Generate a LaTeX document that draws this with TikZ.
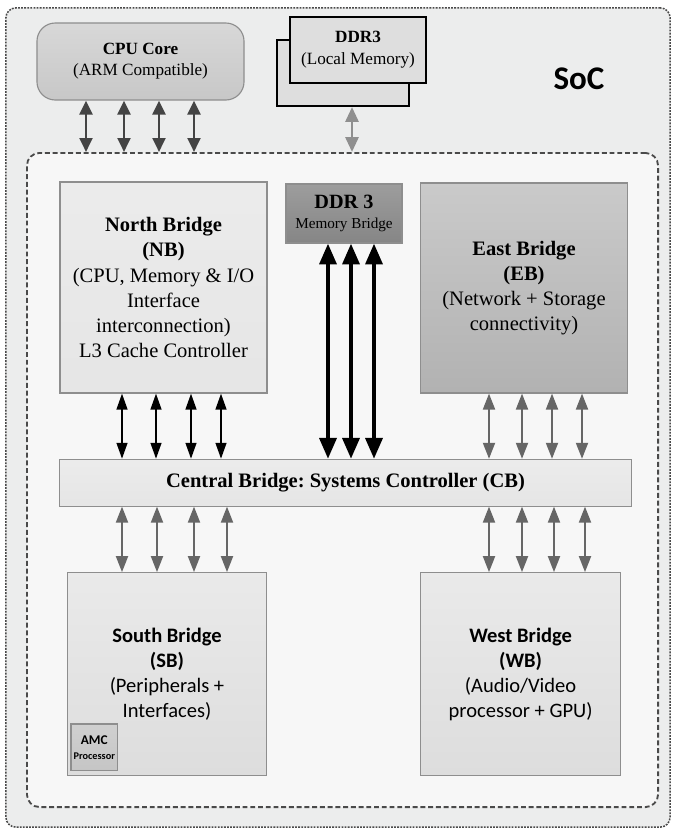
\documentclass[tikz,border=0pt]{standalone}
\usepackage{xcolor}
\usepackage{fontspec}
\setmainfont{Liberation Serif}
\newfontfamily\calibri{Carlito}
\usepackage{tikz}
\usetikzlibrary{arrows.meta,positioning}
\frenchspacing
\definecolor{socbg}{HTML}{ECEDED}
\definecolor{chipbg}{HTML}{F7F7F7}
\definecolor{frameline}{HTML}{4A4A4A}
\definecolor{boxline}{HTML}{8E8E8E}
\definecolor{memfill}{HTML}{DEDEDE}
\definecolor{cpuarrow}{HTML}{444444}
\definecolor{memarrow}{HTML}{8F8F8F}
\definecolor{ioarrow}{HTML}{666666}

\begin{document}
\begin{tikzpicture}[ % 整个图的属性
    x=0.025cm, y=-0.025cm, % 一个单位 = 一个像素, y 轴向下
    every node/.style={inner sep=0pt, align=center}, % 文字居中
    font=\fontsize{14.6}{17.8}\selectfont % 默认字号
  ]
  \tikzstyle{block}=[draw=boxline, line width=0.8pt, rectangle] % 各个 bridge 方框
  \tikzstyle{membox}=[draw=black, line width=1.4pt, fill=memfill] % DDR3 叠放的方框
  \tikzstyle{cpulink}=[<->, >={Triangle[length=0.35cm,width=0.32cm]}, line width=2.1pt, cpuarrow]
  \tikzstyle{memlink}=[<->, >={Triangle[length=0.37cm,width=0.32cm]}, line width=2.1pt, memarrow]
  \tikzstyle{nblink}=[<->, >={Triangle[length=0.4cm,width=0.27cm]}, line width=1.4pt, black]
  \tikzstyle{ddrlink}=[<->, >={Triangle[length=0.52cm,width=0.42cm]}, line width=2.8pt, black]
  \tikzstyle{iolink}=[<->, >={Triangle[length=0.4cm,width=0.3cm]}, line width=1.4pt, ioarrow]
  \useasboundingbox (0,0) rectangle (673,829);
  %% node
  % \draw [help lines, step=50] (0,0) grid (673,829); % 显示辅助格点位置
  \node[draw=frameline, line width=1.1pt, dash pattern=on 1.3pt off 0.9pt, fill=socbg,
        rounded corners=7pt, minimum width=16.6cm, minimum height=20.475cm] (soc) at (338,417.5) {};
  \node[anchor=base, font=\calibri\bfseries\fontsize{23.5}{28}\selectfont] (soclabel) at (579,89) {SoC};
  \node[block, rounded corners=13pt, top color={rgb:black,1;white,5.5}, bottom color={rgb:black,1;white,3.6},
        minimum width=5.175cm, minimum height=1.925cm, font=\fontsize{12.2}{15}\selectfont] (cpu) at (140.5,61.5)
        {\textbf{CPU Core}\\(ARM Compatible)};
  \node[membox, minimum width=3.3cm, minimum height=1.65cm] (ddrback) at (343,73) {};
  \node[membox, minimum width=3.4cm, minimum height=1.65cm, font=\fontsize{12.2}{15.5}\selectfont] (ddr) at (358,50)
        {\textbf{DDR3}\\(Local Memory)};
  \node[draw=frameline, line width=1.3pt, dash pattern=on 3.5pt off 2pt, fill=chipbg,
        rounded corners=9pt, minimum width=15.775cm, minimum height=16.35cm] (chip) at (342.5,480) {};
  % chip 内部
  \node[block, top color={rgb:black,1;white,12}, bottom color={rgb:black,1;white,9},
        minimum width=5.175cm, minimum height=5.275cm] (nb) at (163.5,287.5)
        {\textbf{North Bridge}\\\textbf{(NB)}\\(CPU, Memory \& I/O\\Interface\\interconnection)\\L3 Cache Controller};
  \node[block, top color={rgb:black,1;white,1.6}, bottom color={rgb:black,1;white,1.1},
        minimum width=2.9cm, minimum height=1.475cm, font=\fontsize{14.4}{14.2}\selectfont] (mb) at (344,213.5)
        {\textbf{DDR 3}\\{\fontsize{10.8}{14.2}\selectfont Memory Bridge}};
  \node[block, top color={rgb:black,1;white,3.8}, bottom color={rgb:black,1;white,2.3},
        minimum width=5.175cm, minimum height=5.25cm] (eb) at (524,288)
        {\textbf{East Bridge}\\\textbf{(EB)}\\(Network + Storage\\connectivity)};
  \node[block, top color={rgb:black,1;white,12}, bottom color={rgb:black,1;white,9},
        minimum width=14.31cm, minimum height=1.1675cm] (cb) at (345.5,482.7)
        {\textbf{Central Bridge: Systems Controller (CB)}};
  \node[block, top color={rgb:black,1;white,11}, bottom color={rgb:black,1;white,6.5},
        minimum width=4.985cm, minimum height=5.08cm, font=\calibri\fontsize{14.6}{17.8}\selectfont] (sb) at (167,674.3)
        {\textbf{South Bridge}\\\textbf{(SB)}\\(Peripherals +\\Interfaces)};
  \node[block, top color={rgb:black,1;white,11}, bottom color={rgb:black,1;white,6.5},
        minimum width=5cm, minimum height=5.08cm, font=\calibri\fontsize{14.6}{17.8}\selectfont] (wb) at (520.6,674.3)
        {\textbf{West Bridge}\\\textbf{(WB)}\\(Audio/Video\\processor + GPU)};
  \node[block, top color={rgb:black,1;white,4.4}, bottom color={rgb:black,1;white,3.4},
        minimum width=1.1675cm, minimum height=1.1675cm, font=\calibri\bfseries\fontsize{9.5}{10.5}\selectfont] (amc) at (94.3,747.3)
        {AMC\\{\fontsize{7.3}{10.5}\selectfont Processor}};
  %% path
  \foreach \x in {86,124,159,194} \draw[cpulink] (\x,0 |- cpu.south) -- (\x,0 |- chip.north);
  \draw[memlink] (352,0 |- ddrback.south) -- (352,0 |- chip.north);
  \foreach \x in {122,156,191,221} \draw[nblink] (\x,0 |- nb.south) -- (\x,0 |- cb.north);
  \foreach \x in {328,351,374} \draw[ddrlink] (\x,0 |- mb.south) -- (\x,0 |- cb.north);
  \foreach \x in {489,522,552,582} \draw[iolink] (\x,0 |- eb.south) -- (\x,0 |- cb.north);
  \foreach \x in {122,157,194,227} \draw[iolink] (\x,0 |- cb.south) -- (\x,0 |- sb.north);
  \foreach \x in {489,522,554,585} \draw[iolink] (\x,0 |- cb.south) -- (\x,0 |- wb.north);
\end{tikzpicture}
\end{document}
